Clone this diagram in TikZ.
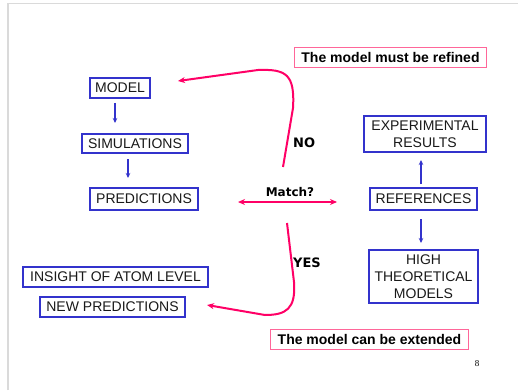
\documentclass[tikz,border=0pt]{standalone}
\usepackage{fontspec}
\setmainfont{Liberation Sans}
\newfontfamily\handfont{DejaVu Sans}
\newfontfamily\pagefont{Liberation Serif}
\usetikzlibrary{arrows.meta}
\definecolor{boxblue}{HTML}{3333CC}
\definecolor{hotpink}{HTML}{FF0066}
\definecolor{notepink}{HTML}{FF6699}
\definecolor{framegray}{HTML}{DADADA}

\begin{document}
\begin{tikzpicture}[x=1pt,y=-1pt,
  stepbox/.style={draw=boxblue, line width=2pt, inner sep=0pt, align=center,
    font=\fontsize{14}{17}\selectfont, text=black!90},
  notebox/.style={draw=notepink, line width=1.2pt, inner sep=0pt,
    font=\fontsize{14}{17}\selectfont\bfseries},
  flow/.style={draw=boxblue, line width=1.3pt, -{Stealth[length=5pt,width=4.5pt]}},
  verdict/.style={draw=hotpink, line width=2pt, -{Stealth[length=7pt,width=6pt]}},
  handlabel/.style={font=\handfont\bfseries\fontsize{12}{14}\selectfont, inner sep=0pt}
]
% page area and slide frame
\useasboundingbox (0,0) rectangle (518,390);
\fill[white] (0,0) rectangle (518,390);
\draw[framegray, line width=1.5pt] (8,390) -- (8,3.5) -- (518,3.5);

% model chain
\node[stepbox, minimum width=60pt, minimum height=20pt] (model) at (120,88) {MODEL};
\node[stepbox, minimum width=106pt, minimum height=19pt] (sim) at (135,143.5) {SIMULATIONS};
\node[stepbox, minimum width=108pt, minimum height=22pt] (pred) at (144,199) {PREDICTIONS};

% reference side
\node[stepbox, minimum width=122pt, minimum height=36pt] (exp) at (425,134) {EXPERIMENTAL\\RESULTS};
\node[stepbox, minimum width=107pt, minimum height=22pt] (ref) at (423.5,199) {REFERENCES};
\node[stepbox, minimum width=109pt, minimum height=53pt] (high) at (423.5,276.5) {HIGH\\THEORETICAL\\MODELS};

% outcomes
\node[stepbox, minimum width=185pt, minimum height=20pt] (insight) at (115.5,277) {INSIGHT OF ATOM LEVEL};
\node[stepbox, minimum width=145pt, minimum height=20pt] (newpred) at (112.5,307) {NEW PREDICTIONS};

% notes
\node[notebox, minimum width=192pt, minimum height=20pt] (refined) at (390.5,57.5) {The model must be refined};
\node[notebox, minimum width=198pt, minimum height=20pt] (extended) at (369.5,339.5) {The model can be extended};

% blue flow arrows
\draw[flow] ([shift={(-5,4)}]model.south) -- ([shift={(-20,-10)}]sim.north);
\draw[flow] ([shift={(-7,5)}]sim.south) -- ([shift={(-16,-9)}]pred.north);
\draw[flow] ([shift={(-2.5,-3)}]ref.north) -- ([shift={(-4,7)}]exp.south);
\draw[flow] ([shift={(-2.5,8)}]ref.south) -- ([shift={(-2.5,-6)}]high.north);

% comparison
\draw[verdict, {Stealth[length=7pt,width=6pt]}-{Stealth[length=7pt,width=6pt]}]
  ([shift={(39,3)}]pred.east) -- ([shift={(-32,3)}]ref.west);
\node[handlabel] (match) at (290,192) {Match?};

% decision loops
\coordinate (nostart) at (283,167);
\coordinate (yesstart) at (287,223);
\draw[verdict] (nostart) -- (293,108) .. controls (295,74) and (286,69) .. (258,70)
  -- ([shift={(27,-7)}]model.east);
\draw[verdict] (yesstart) -- (294,282) .. controls (296,309) and (286,315) .. (265,315)
  -- ([shift={(21,-2)}]newpred.east);
\node[handlabel, font=\handfont\bfseries\fontsize{13}{15}\selectfont, anchor=west] (no) at (293,143) {NO};
\node[handlabel, font=\handfont\bfseries\fontsize{13}{15}\selectfont, anchor=west] (yes) at (293,263) {YES};

% page number
\node[font=\pagefont\fontsize{9}{10}\selectfont, inner sep=0pt] (pagenum) at (477,364) {8};
\end{tikzpicture}
\end{document}
